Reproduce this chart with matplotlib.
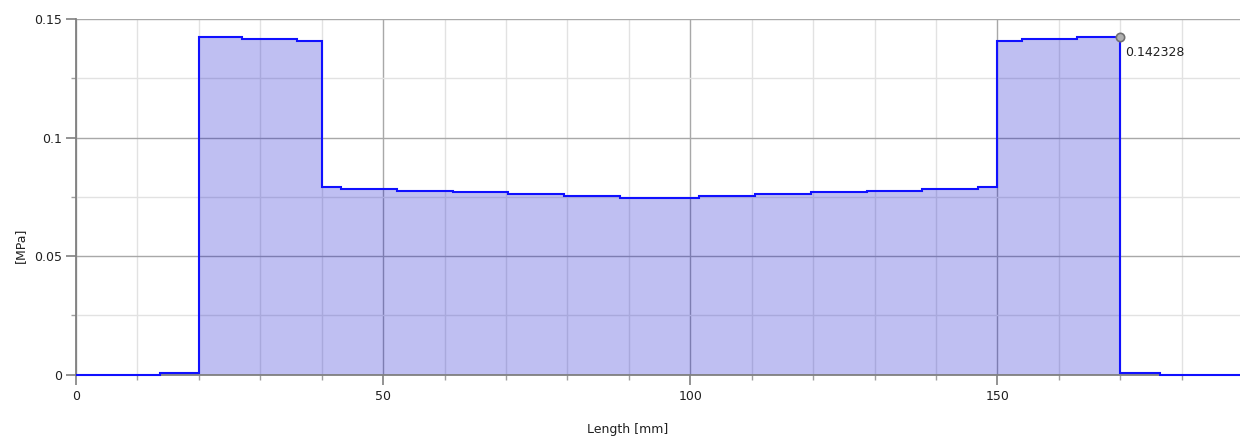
import matplotlib
matplotlib.use("Agg")
import matplotlib.pyplot as plt
from matplotlib.ticker import MultipleLocator, FixedLocator

# ---- data ----
edges = [0, 13.6, 20, 27, 36, 40, 43.1, 52.2, 61.3, 70.4, 79.5, 88.6,
         101.4, 110.5, 119.6, 128.7, 137.8, 146.9, 150, 154, 163, 170, 176.4, 190]
pressure = [0.0, 0.0008, 0.14233, 0.1416, 0.1408,
            0.0793, 0.0782, 0.0775, 0.0769, 0.0762, 0.0755, 0.0747,
            0.0755, 0.0762, 0.0769, 0.0775, 0.0782, 0.0793,
            0.1408, 0.1416, 0.14233, 0.0008, 0.0]
marker_x = 170
marker_y = 0.142328
marker_label = "0.142328"
x_major = [0, 50, 100, 150]
y_major = [0, 0.05, 0.1, 0.15]
y_major_labels = ["0", "0.05", "0.1", "0.15"]

plt.rcParams['font.family'] = ['DejaVu Sans']
fig = plt.figure(figsize=(12.4, 4.38), dpi=100)
ax = fig.add_axes([76/1240, 1 - 374.7/438, 1 - 76/1240, (374.7 - 19)/438])

ax.set_xlim(0, 189.5)
ax.set_ylim(0, 0.15)

ax.set_axisbelow(True)
ax.stairs(pressure, edges, fill=True, color=(0.0, 0.0, 0.80), alpha=0.25, linewidth=0)
ax.stairs(pressure, edges, color="#1010ff", linewidth=1.5, zorder=4, clip_on=False)

ax.plot([marker_x], [marker_y], marker="o", markersize=6, markerfacecolor="#b0b0b0",
        markeredgecolor="#707070", markeredgewidth=1.2, zorder=5, clip_on=False)
ax.annotate(marker_label, (marker_x, marker_y), xytext=(3.6, -10.8),
            textcoords="offset points", ha="left", va="center", fontsize=9, color="#202020")

ax.xaxis.set_major_locator(FixedLocator(x_major))
ax.xaxis.set_minor_locator(MultipleLocator(10))
ax.yaxis.set_major_locator(FixedLocator(y_major))
ax.set_yticklabels(y_major_labels)
ax.yaxis.set_minor_locator(MultipleLocator(0.025))

ax.grid(which="major", color="#a8a8a8", linewidth=1.0)
ax.grid(which="minor", color="#e2e2e2", linewidth=1.0)

for s in ["top", "right"]:
    ax.spines[s].set_visible(False)
for s in ["left", "bottom"]:
    ax.spines[s].set_color("#808080")
    ax.spines[s].set_linewidth(1.3)

ax.tick_params(axis="both", which="major", length=7, width=1.2, color="#808080",
               labelsize=9, labelcolor="#202020")
ax.tick_params(axis="both", which="minor", length=3.6, width=1.0, color="#a0a0a0")
ax.tick_params(axis="x", which="major", pad=4)
ax.tick_params(axis="y", which="major", pad=3)

fig.text(20/1240, 1 - 245/438, "[MPa]", rotation=90, ha="center", va="center",
         fontsize=9, color="#202020")
fig.text(628/1240, 1 - 429/438, "Length [mm]", ha="center", va="center",
         fontsize=9, color="#202020")

fig.savefig("out.png", dpi=100)
